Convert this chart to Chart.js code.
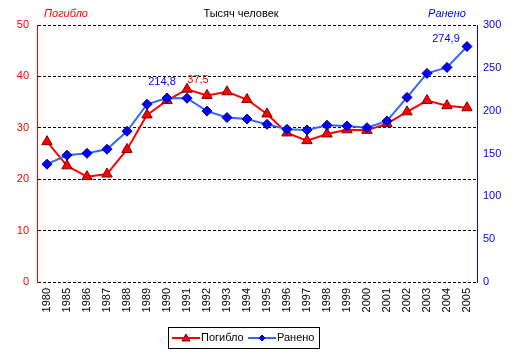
<!DOCTYPE html>
<html><head><meta charset="utf-8">
<script src="https://cdn.jsdelivr.net/npm/chart.js@4.4.1/dist/chart.umd.min.js"></script>
<style>html,body{margin:0;padding:0;background:#fff}#wrap{width:513px;height:358px;position:relative}</style>
</head><body><div id="wrap"><canvas id="c" width="513" height="358"></canvas></div>
<script>
const categories = ['1980','1985','1986','1987','1988','1989','1990','1991','1992','1993','1994','1995','1996','1997','1998','1999','2000','2001','2002','2003','2004','2005'];
const killed = [27.3,22.6,20.5,21.0,25.8,32.5,35.3,37.5,36.3,37.0,35.5,32.7,29.0,27.5,28.8,29.6,29.5,30.8,33.1,35.3,34.3,33.9];
const wounded = [137.5,148.0,150.2,155.0,176.0,207.5,214.8,214.5,199.5,192.0,190.3,184.0,178.2,177.5,183.0,182.2,180.2,188.0,215.5,243.5,250.5,274.9];
const leftTicks = [0,10,20,30,40,50];
const rightTicks = [0,50,100,150,200,250,300];
const FONT = '"Liberation Sans", Arial, sans-serif';

const overlay = {
  id:'overlay',
  afterDraw(chart){
    const ctx = chart.ctx;
    const x = chart.scales.x, yl = chart.scales.y, yr = chart.scales.y1;
    ctx.save();
    ctx.textBaseline = 'middle';
    ctx.textAlign = 'center';
    ctx.font = 'italic 11px ' + FONT;
    ctx.fillStyle = '#ff0000'; ctx.fillText('Погибло', 66, 14);
    ctx.fillStyle = '#0000ff'; ctx.fillText('Ранено', 447, 14);
    ctx.font = '11px ' + FONT;
    ctx.fillStyle = '#000'; ctx.fillText('Тысяч человек', 241, 14);
    // value labels
    const i1 = 6, i2 = 7, i3 = 21;
    ctx.fillStyle = '#0000ff';
    ctx.fillText(String(wounded[i1]).replace('.',','), x.getPixelForValue(i1)-5, yr.getPixelForValue(wounded[i1])-16);
    ctx.fillStyle = '#ff0000';
    ctx.fillText(String(killed[i2]).replace('.',','), x.getPixelForValue(i2)+11, yl.getPixelForValue(killed[i2])-9);
    ctx.fillStyle = '#0000ff';
    ctx.fillText(String(wounded[i3]).replace('.',','), x.getPixelForValue(i3)-21, yr.getPixelForValue(wounded[i3])-8);
    // legend
    ctx.strokeStyle = '#000'; ctx.lineWidth = 1;
    ctx.strokeRect(168.5, 327.5, 151, 21);
    const ly = 338;
    ctx.strokeStyle = '#ff0000'; ctx.lineWidth = 2;
    ctx.beginPath(); ctx.moveTo(172, ly); ctx.lineTo(200, ly); ctx.stroke();
    ctx.fillStyle = '#ff0000'; ctx.strokeStyle = '#800000'; ctx.lineWidth = 1;
    ctx.beginPath(); ctx.moveTo(186, ly-4); ctx.lineTo(190, ly+3); ctx.lineTo(182, ly+3); ctx.closePath(); ctx.fill(); ctx.stroke();
    ctx.strokeStyle = '#3366ff'; ctx.lineWidth = 2;
    ctx.beginPath(); ctx.moveTo(248, ly); ctx.lineTo(276, ly); ctx.stroke();
    ctx.fillStyle = '#0000ff'; ctx.strokeStyle = '#000080'; ctx.lineWidth = 1;
    ctx.beginPath(); ctx.moveTo(262, ly-3); ctx.lineTo(265, ly); ctx.lineTo(262, ly+3); ctx.lineTo(259, ly); ctx.closePath(); ctx.fill(); ctx.stroke();
    ctx.fillStyle = '#000'; ctx.textAlign = 'left'; ctx.font = '11px ' + FONT;
    ctx.fillText('Погибло', 201, ly);
    ctx.fillText('Ранено', 277, ly);
    ctx.restore();
  }
};

new Chart(document.getElementById('c'), {
  type: 'line',
  data: {
    labels: categories,
    datasets: [
      { label:'Погибло', data: killed, yAxisID:'y', order:1, borderColor:'#ff0000', borderWidth:2,
        pointStyle:'triangle', pointRadius:6, pointBackgroundColor:'#ff0000', pointBorderColor:'#800000', pointBorderWidth:1, tension:0 },
      { label:'Ранено', data: wounded, yAxisID:'y1', order:0, borderColor:'#3366ff', borderWidth:2,
        pointStyle:'rectRot', pointRadius:5, pointBackgroundColor:'#0000ff', pointBorderColor:'#000080', pointBorderWidth:1, tension:0 }
    ]
  },
  options: {
    responsive:false, animation:false,
    layout:{padding:{top:25,left:0,right:0,bottom:0}},
    plugins:{legend:{display:false}, tooltip:{enabled:false}},
    scales:{
      x:{ offset:true,
        grid:{display:false, drawTicks:false},
        border:{display:false},
        ticks:{minRotation:90, maxRotation:90, color:'#000', font:{family:FONT, size:11}, padding:6, autoSkip:false},
        afterFit(s){ s.height = 76; }
      },
      y:{ position:'left', min:0, max:50,
        afterBuildTicks(s){ s.ticks = leftTicks.map(v=>({value:v})); },
        grid:{color:'#000', lineWidth:1, drawTicks:false},
        border:{color:'#ff0000', width:1, dash:[3,2]},
        ticks:{color:'#ff0000', font:{family:FONT, size:11}, padding:8},
        afterFit(s){ s.width = 37; }
      },
      y1:{ position:'right', min:0, max:300,
        afterBuildTicks(s){ s.ticks = rightTicks.map(v=>({value:v})); },
        grid:{display:false, drawTicks:false},
        border:{color:'#0000ff', width:1},
        ticks:{color:'#0000ff', font:{family:FONT, size:11}, padding:6},
        afterFit(s){ s.width = 36; }
      }
    }
  },
  plugins:[overlay]
});
</script></body></html>
